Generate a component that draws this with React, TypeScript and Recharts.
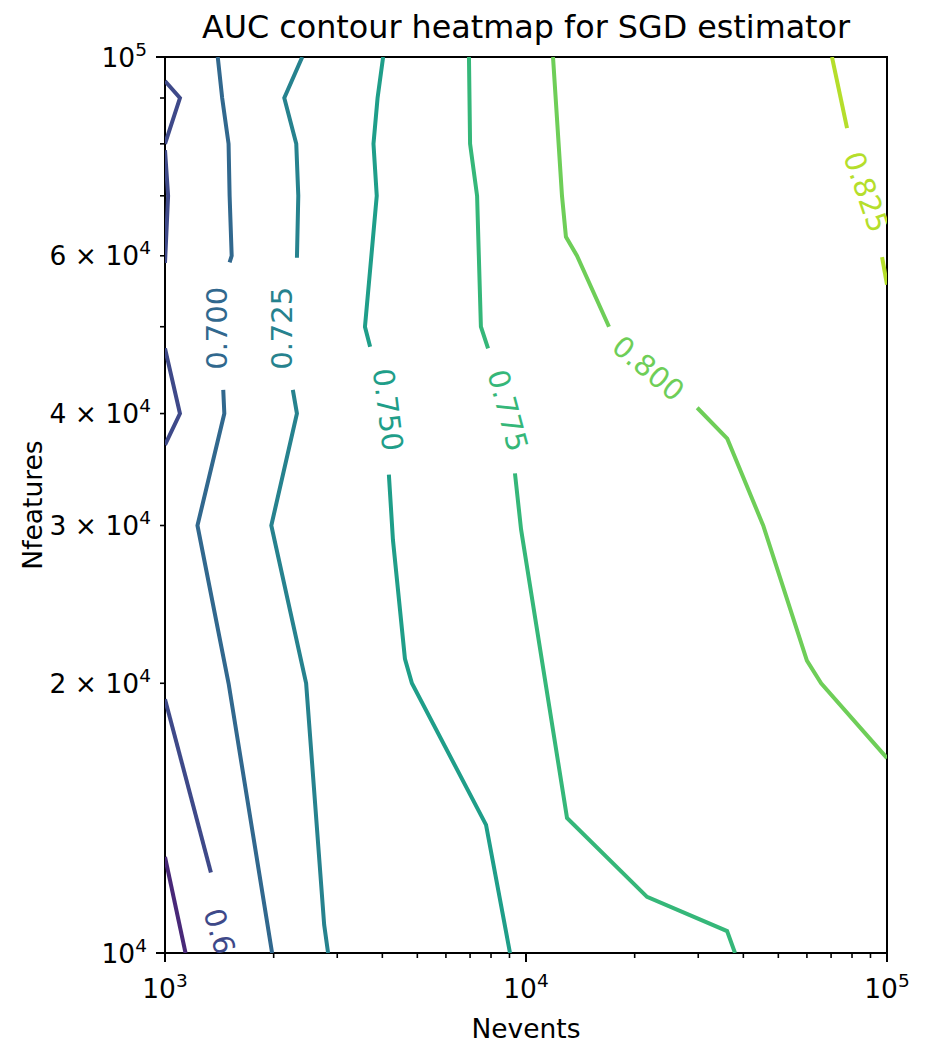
import React from "react";
import { ComposedChart, Line, Scatter, XAxis, YAxis, ReferenceArea } from "recharts";

const FONT = "'DejaVu Sans', sans-serif";

// contour levels (viridis over 0.625..0.850)
const LEVELS = ["0.650", "0.675", "0.700", "0.725", "0.750", "0.775", "0.800", "0.825"];
const COLORS = ["#482878", "#3e4989", "#31688e", "#26828e", "#1f9e89", "#35b779", "#6ece58", "#b5de2b"];

type Pt = [number, number]; // [Nevents, Nfeatures]

const c650a: Pt[] = [[1000, 12800], [1140, 10000]];

const c675a: Pt[] = [[1000, 94000], [1100, 90000], [1000, 80000]];
const c675b: Pt[] = [[1000, 78700], [1020, 70000], [1000, 58900]];
const c675c: Pt[] = [[1000, 47300], [1100, 40000], [1000, 36900]];
const c675d: Pt[] = [[1000, 19200], [1340, 12300]];

const c700a: Pt[] = [[1400, 100000], [1440, 90000], [1500, 80000], [1510, 70000], [1530, 60000], [1510, 59000]];
const c700b: Pt[] = [[1450, 42500], [1460, 40000], [1230, 30000], [1500, 20000], [1980, 10000]];

const c725a: Pt[] = [[2400, 100000], [2140, 90000], [2310, 80000], [2340, 70000], [2320, 59700]];
const c725b: Pt[] = [[2260, 42500], [2320, 40000], [1970, 30000], [2460, 20000], [2760, 10750], [2830, 10000]];

const c750a: Pt[] = [[4020, 100000], [3880, 90000], [3780, 80000], [3860, 70000], [3730, 60000], [3580, 50000], [3700, 47500]];
const c750b: Pt[] = [[4170, 34200], [4280, 28900], [4620, 21300], [4830, 20000], [7750, 13900], [9030, 10000]];

const c775a: Pt[] = [[6950, 100000], [7000, 80000], [7320, 70000], [7500, 50000], [7850, 47300]];
const c775b: Pt[] = [[9320, 34300], [9690, 29700], [12990, 14150], [21640, 11550], [36060, 10580], [37930, 10000]];

const c800a: Pt[] = [[11880, 100000], [12580, 70000], [12900, 63000], [13840, 60000], [16980, 50000]];
const c800b: Pt[] = [[29800, 40600], [36100, 37500], [45400, 30000], [60000, 21200], [65700, 20000], [100000, 16500]];

const c825a: Pt[] = [[70400, 100000], [77500, 83300]];
const c825b: Pt[] = [[96900, 59800], [100000, 55700]];

const segLevel = [0, 1, 1, 1, 1, 2, 2, 3, 3, 4, 4, 5, 5, 6, 6, 7, 7];
const segPts = [c650a, c675a, c675b, c675c, c675d, c700a, c700b, c725a, c725b, c750a, c750b, c775a, c775b, c800a, c800b, c825a, c825b];

// inline contour labels
const labelLevel = [1, 2, 3, 4, 5, 6, 7];
const labelPos: Pt[] = [[1460, 10100], [1390, 49800], [2110, 49800], [4140, 40400], [8900, 40300], [21800, 44900], [87500, 70700]];
const labelAngle = [74, -90, -90, 83, 75, 40, 71];

// ticks
const xTicks = [1000, 2000, 3000, 4000, 5000, 6000, 7000, 8000, 9000, 10000, 20000, 30000, 40000, 50000, 60000, 70000, 80000, 90000, 100000];
const xMajor = [1000, 10000, 100000];
const xMajorExp = ["3", "4", "5"];
const yTicks = [10000, 20000, 30000, 40000, 50000, 60000, 70000, 80000, 90000, 100000];
const yMajor = [10000, 100000];
const yLabelMant = ["", "2", "3", "4", null, "6", null, null, null, ""];
const yLabelExp = ["4", "4", "4", "4", null, "4", null, null, null, "5"];

const XTick = (props: any) => {
  const { x, y, payload } = props;
  const i = xMajor.indexOf(payload.value);
  const major = i >= 0;
  return (
    <g>
      <line x1={x} x2={x} y1={y} y2={y + (major ? 9 : 5)} stroke="#000" strokeWidth={major ? 2 : 1.6} />
      {major && (
        <text x={x} y={y + 45} textAnchor="middle" fontFamily={FONT} fontSize={26.5} fill="#000">
          10
          <tspan dy={-11} fontSize={18.5}>{xMajorExp[i]}</tspan>
        </text>
      )}
    </g>
  );
};

const YTick = (props: any) => {
  const { x, y, payload } = props;
  const i = yTicks.indexOf(payload.value);
  const major = yMajor.includes(payload.value);
  const len = major ? 9 : 5;
  const mant = yLabelMant[i];
  return (
    <g>
      <line x1={x - len} x2={x} y1={y} y2={y} stroke="#000" strokeWidth={major ? 2 : 1.6} />
      {mant !== null && mant !== undefined && (
        <text x={x - len - 9} y={y + 9.7} textAnchor="end" fontFamily={FONT} fontSize={26.5} fill="#000">
          {mant ? `${mant} × 10` : "10"}
          <tspan dy={-11} fontSize={18.5}>{yLabelExp[i]}</tspan>
        </text>
      )}
    </g>
  );
};

const labelShape = (text: string, color: string, angle: number) => (p: any) => (
  <text
    x={p.cx}
    y={p.cy}
    transform={`rotate(${angle} ${p.cx} ${p.cy})`}
    textAnchor="middle"
    dominantBaseline="central"
    fontFamily={FONT}
    fontSize={29}
    fill={color}
  >
    {text}
  </text>
);

export default function App() {
  return (
    <div style={{ position: "absolute", left: 0, top: 0, width: 933, height: 1047, background: "#fff" }}>
      <ComposedChart width={933} height={1047} margin={{ top: 57, right: 46, left: 15, bottom: 34 }}>
        <XAxis
          dataKey="x"
          type="number"
          scale="log"
          domain={[1000, 100000]}
          allowDataOverflow
          ticks={xTicks}
          interval={0}
          tickSize={0}
          tickMargin={0}
          tick={<XTick />}
          axisLine={false}
          height={60}
        />
        <YAxis
          dataKey="y"
          type="number"
          scale="log"
          domain={[10000, 100000]}
          allowDataOverflow
          ticks={yTicks}
          interval={0}
          tickSize={0}
          tickMargin={0}
          tick={<YTick />}
          axisLine={false}
          width={150}
        />
        {segPts.map((pts, i) => (
          <Line
            key={`seg${i}`}
            data={pts.map(([x, y]) => ({ x, y }))}
            dataKey="y"
            type="linear"
            stroke={COLORS[segLevel[i]]}
            strokeWidth={4}
            dot={false}
            activeDot={false}
            isAnimationActive={false}
          />
        ))}
        {labelPos.map(([x, y], i) => (
          <Scatter
            key={`lab${i}`}
            data={[{ x, y }]}
            dataKey="y"
            shape={labelShape(LEVELS[labelLevel[i]], COLORS[labelLevel[i]], labelAngle[i])}
            isAnimationActive={false}
          />
        ))}
        <ReferenceArea
          x1={1000}
          x2={100000}
          y1={10000}
          y2={100000}
          fill="none"
          fillOpacity={0}
          stroke="#000"
          strokeWidth={2}
          ifOverflow="visible"
        />
      </ComposedChart>
      <svg width={933} height={1047} style={{ position: "absolute", left: 0, top: 0, pointerEvents: "none" }}>
        <text x={526} y={38} textAnchor="middle" fontFamily={FONT} fontSize={31.8} fill="#000">
          AUC contour heatmap for SGD estimator
        </text>
        <text x={526} y={1038} textAnchor="middle" fontFamily={FONT} fontSize={26.5} fill="#000">
          Nevents
        </text>
        <text x={42} y={505} transform="rotate(-90 42 505)" textAnchor="middle" fontFamily={FONT} fontSize={26.5} fill="#000">
          Nfeatures
        </text>
      </svg>
    </div>
  );
}
